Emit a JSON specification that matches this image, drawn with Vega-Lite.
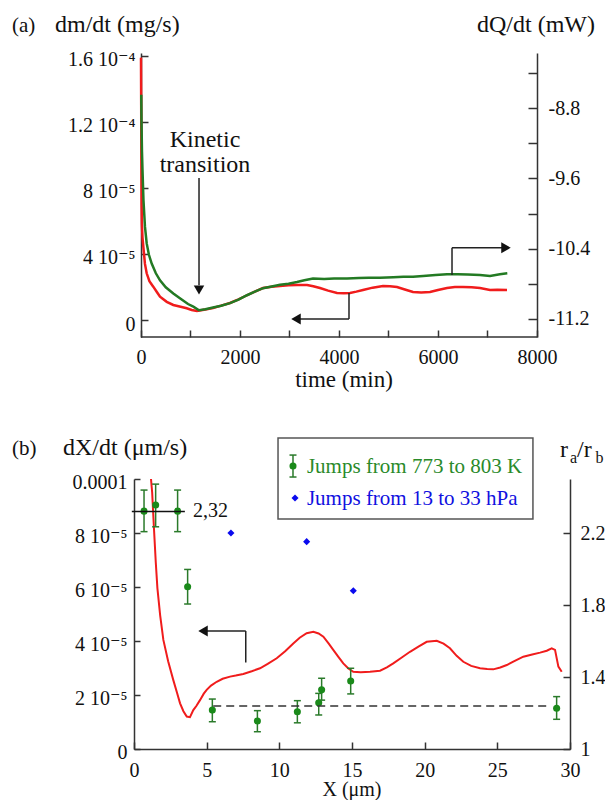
{
  "$schema": "https://vega.github.io/schema/vega-lite/v6.json",
  "padding": {"left": 12, "top": 13, "right": 0, "bottom": 0},
  "bounds": "flush",
  "spacing": 142,
  "config": {
    "font": "Liberation Serif, Times New Roman, DejaVu Serif, serif",
    "view": {"stroke": null},
    "axis": {"grid": false, "domainColor": "#333", "domainWidth": 1.5, "tickColor": "#333", "tickWidth": 1.5, "labelColor": "#111", "labelFont": "Liberation Serif, Times New Roman, DejaVu Serif, serif", "labelFontSize": 20, "labelOverlap": false, "labelFlush": false, "labelBound": false},
    "text": {"font": "Liberation Serif, Times New Roman, DejaVu Serif, serif", "color": "#111"}
  },
  "datasets": {
    "topRed": [
      {"time": 0, "dm": 0.000159}, {"time": 4, "dm": 0.00013}, {"time": 8, "dm": 0.000095}, {"time": 12, "dm": 0.00007}, {"time": 18, "dm": 0.000058},
      {"time": 30, "dm": 0.00005}, {"time": 47, "dm": 0.0000444}, {"time": 80, "dm": 0.000034}, {"time": 115, "dm": 0.0000283}, {"time": 170, "dm": 0.0000235},
      {"time": 248, "dm": 0.0000202}, {"time": 320, "dm": 0.000017}, {"time": 384, "dm": 0.0000141}, {"time": 520, "dm": 0.000011}, {"time": 653, "dm": 0.0000091},
      {"time": 800, "dm": 0.000008}, {"time": 923, "dm": 0.0000071}, {"time": 1024, "dm": 0.0000061}, {"time": 1131, "dm": 0.0000055}, {"time": 1300, "dm": 0.0000063},
      {"time": 1455, "dm": 0.0000073}, {"time": 1620, "dm": 0.0000087}, {"time": 1798, "dm": 0.0000103}, {"time": 1970, "dm": 0.0000125}, {"time": 2141, "dm": 0.000015},
      {"time": 2300, "dm": 0.0000172}, {"time": 2465, "dm": 0.0000194}, {"time": 2640, "dm": 0.0000202}, {"time": 2808, "dm": 0.0000206}, {"time": 2980, "dm": 0.000021},
      {"time": 3152, "dm": 0.0000212}, {"time": 3354, "dm": 0.0000212}, {"time": 3480, "dm": 0.0000205}, {"time": 3616, "dm": 0.0000194}, {"time": 3780, "dm": 0.0000178},
      {"time": 3960, "dm": 0.0000164}, {"time": 4100, "dm": 0.0000162}, {"time": 4222, "dm": 0.0000164}, {"time": 4350, "dm": 0.0000172}, {"time": 4485, "dm": 0.0000182},
      {"time": 4680, "dm": 0.0000196}, {"time": 4889, "dm": 0.0000206}, {"time": 5030, "dm": 0.0000205}, {"time": 5172, "dm": 0.00002}, {"time": 5330, "dm": 0.0000185},
      {"time": 5495, "dm": 0.000017}, {"time": 5660, "dm": 0.0000166}, {"time": 5838, "dm": 0.000017}, {"time": 6000, "dm": 0.0000182}, {"time": 6182, "dm": 0.0000194},
      {"time": 6340, "dm": 0.00002}, {"time": 6505, "dm": 0.00002}, {"time": 6680, "dm": 0.0000198}, {"time": 6848, "dm": 0.0000194}, {"time": 7051, "dm": 0.0000182},
      {"time": 7200, "dm": 0.0000184}, {"time": 7394, "dm": 0.0000182}
    ],
    "topGreen": [
      {"time": 5, "dQ": -8.65}, {"time": 10, "dQ": -8.95}, {"time": 20, "dQ": -9.3}, {"time": 30, "dQ": -9.5}, {"time": 50, "dQ": -9.85},
      {"time": 80, "dQ": -10.15}, {"time": 115, "dQ": -10.34}, {"time": 160, "dQ": -10.47}, {"time": 216, "dQ": -10.57}, {"time": 300, "dQ": -10.68},
      {"time": 384, "dQ": -10.76}, {"time": 500, "dQ": -10.84}, {"time": 653, "dQ": -10.91}, {"time": 800, "dQ": -10.97}, {"time": 950, "dQ": -11.03},
      {"time": 1057, "dQ": -11.06}, {"time": 1172, "dQ": -11.1}, {"time": 1300, "dQ": -11.09}, {"time": 1455, "dQ": -11.07}, {"time": 1620, "dQ": -11.05},
      {"time": 1798, "dQ": -11.02}, {"time": 1970, "dQ": -10.98}, {"time": 2141, "dQ": -10.93}, {"time": 2300, "dQ": -10.89}, {"time": 2465, "dQ": -10.85},
      {"time": 2640, "dQ": -10.83}, {"time": 2808, "dQ": -10.81}, {"time": 2980, "dQ": -10.8}, {"time": 3152, "dQ": -10.78}, {"time": 3300, "dQ": -10.76},
      {"time": 3475, "dQ": -10.74}, {"time": 3700, "dQ": -10.745}, {"time": 3900, "dQ": -10.74}, {"time": 4162, "dQ": -10.74}, {"time": 4400, "dQ": -10.735},
      {"time": 4600, "dQ": -10.73}, {"time": 4828, "dQ": -10.73}, {"time": 5100, "dQ": -10.725}, {"time": 5300, "dQ": -10.72}, {"time": 5495, "dQ": -10.72},
      {"time": 5700, "dQ": -10.71}, {"time": 5950, "dQ": -10.7}, {"time": 6182, "dQ": -10.69}, {"time": 6400, "dQ": -10.69}, {"time": 6600, "dQ": -10.695},
      {"time": 6848, "dQ": -10.7}, {"time": 7051, "dQ": -10.71}, {"time": 7250, "dQ": -10.69}, {"time": 7400, "dQ": -10.68}
    ],
    "botRed": [
      {"x": 1.17, "v": 0.0001}, {"x": 1.25, "v": 0.000095}, {"x": 1.38, "v": 0.000081}, {"x": 1.5, "v": 0.000069}, {"x": 1.61, "v": 0.0000596},
      {"x": 1.8, "v": 0.0000495}, {"x": 2.02, "v": 0.0000404}, {"x": 2.35, "v": 0.0000325}, {"x": 2.7, "v": 0.0000256}, {"x": 2.95, "v": 0.000021},
      {"x": 3.17, "v": 0.0000169}, {"x": 3.4, "v": 0.000014}, {"x": 3.63, "v": 0.000012}, {"x": 3.85, "v": 0.0000118}, {"x": 4.08, "v": 0.0000144},
      {"x": 4.3, "v": 0.000016}, {"x": 4.54, "v": 0.0000181}, {"x": 4.8, "v": 0.0000205}, {"x": 5.0, "v": 0.0000219}, {"x": 5.3, "v": 0.0000235},
      {"x": 5.69, "v": 0.0000249}, {"x": 6.1, "v": 0.000026}, {"x": 6.61, "v": 0.0000268}, {"x": 7.0, "v": 0.0000272}, {"x": 7.52, "v": 0.0000278},
      {"x": 8.1, "v": 0.0000288}, {"x": 8.67, "v": 0.0000299}, {"x": 9.2, "v": 0.0000315}, {"x": 9.82, "v": 0.0000336}, {"x": 10.4, "v": 0.0000362},
      {"x": 10.96, "v": 0.0000391}, {"x": 11.4, "v": 0.0000412}, {"x": 11.88, "v": 0.0000429}, {"x": 12.34, "v": 0.0000434}, {"x": 12.7, "v": 0.0000428},
      {"x": 13.03, "v": 0.0000416}, {"x": 13.4, "v": 0.000039}, {"x": 13.71, "v": 0.0000367}, {"x": 14.05, "v": 0.0000342}, {"x": 14.4, "v": 0.0000317},
      {"x": 14.75, "v": 0.0000298}, {"x": 15.09, "v": 0.0000286}, {"x": 15.6, "v": 0.0000284}, {"x": 16.24, "v": 0.0000286}, {"x": 16.93, "v": 0.000029},
      {"x": 17.4, "v": 0.0000302}, {"x": 17.84, "v": 0.0000317}, {"x": 18.4, "v": 0.0000338}, {"x": 18.99, "v": 0.000036}, {"x": 19.6, "v": 0.000038},
      {"x": 20.14, "v": 0.0000397}, {"x": 20.83, "v": 0.0000401}, {"x": 21.3, "v": 0.000039}, {"x": 21.74, "v": 0.0000373}, {"x": 22.2, "v": 0.0000345},
      {"x": 22.66, "v": 0.0000323}, {"x": 23.2, "v": 0.0000308}, {"x": 23.81, "v": 0.0000299}, {"x": 24.3, "v": 0.0000296}, {"x": 24.72, "v": 0.0000295},
      {"x": 25.2, "v": 0.0000302}, {"x": 25.65, "v": 0.0000311}, {"x": 26.2, "v": 0.0000326}, {"x": 26.79, "v": 0.0000342}, {"x": 27.4, "v": 0.000035},
      {"x": 27.94, "v": 0.0000357}, {"x": 28.4, "v": 0.0000364}, {"x": 28.74, "v": 0.0000373}, {"x": 28.97, "v": 0.0000367}, {"x": 29.2, "v": 0.0000305},
      {"x": 29.43, "v": 0.0000286}
    ],
    "jumpsT": [
      {"x": 0.69, "v": 0.0000881, "lo": 0.0000805, "hi": 0.0000959},
      {"x": 1.49, "v": 0.0000904, "lo": 0.0000823, "hi": 0.0000981},
      {"x": 3.0, "v": 0.0000881, "lo": 0.0000805, "hi": 0.0000959},
      {"x": 3.69, "v": 0.0000601, "lo": 0.0000537, "hi": 0.0000665},
      {"x": 5.39, "v": 0.0000144, "lo": 0.0000101, "hi": 0.0000185},
      {"x": 8.49, "v": 0.0000104, "lo": 0.0000064, "hi": 0.0000142},
      {"x": 11.24, "v": 0.0000138, "lo": 0.0000097, "hi": 0.0000179},
      {"x": 12.71, "v": 0.0000171, "lo": 0.0000126, "hi": 0.0000206},
      {"x": 12.91, "v": 0.0000219, "lo": 0.0000181, "hi": 0.0000262},
      {"x": 14.91, "v": 0.0000252, "lo": 0.0000204, "hi": 0.0000299},
      {"x": 29.08, "v": 0.0000151, "lo": 0.000011, "hi": 0.0000194}
    ],
    "jumpsP": [
      {"x": 6.67, "r": 2.2}, {"x": 11.88, "r": 2.152}, {"x": 15.09, "r": 1.879}
    ]
  },
  "vconcat": [
    {
      "width": 403,
      "height": 284,
      "resolve": {"scale": {"y": "independent"}},
      "layer": [
        {
          "layer": [
            {
              "data": {"name": "topRed"},
              "mark": {"type": "line", "color": "#f01c1c", "strokeWidth": 2.5},
              "encoding": {
                "x": {"field": "time", "type": "quantitative", "scale": {"domain": [-141.4, 8000], "nice": false, "zero": false},
                  "axis": {"title": null, "domain": false, "values": [0, 1000, 2000, 3000, 4000, 5000, 6000, 7000, 8000], "labelExpr": "datum.value % 2000 == 0 ? format(datum.value, 'd') : ''", "tickSize": -7, "labelPadding": 17}},
                "y": {"field": "dm", "type": "quantitative", "scale": {"domain": [-0.0000103, 0.0001618], "nice": false, "zero": false},
                  "axis": {"title": null, "orient": "left", "offset": -7, "values": [0, 0.00002, 0.00004, 0.00006, 0.00008, 0.0001, 0.00012, 0.00014, 0.00016], "labelExpr": "round(datum.value*1e5) % 4 != 0 ? '' : round(datum.value*1e5) == 0 ? '0' : round(datum.value*1e5) < 10 ? round(datum.value*1e5) + ' 10\u207b\u2075' : format(datum.value*1e4, '.1f') + ' 10\u207b\u2074'", "tickSize": -7, "labelPadding": 13, "labelOffset": 4}}
              }
            },
            {"data": {"values": [{}]}, "mark": {"type": "rule", "color": "#333", "strokeWidth": 1.5}, "encoding": {"x": {"datum": 0}, "x2": {"datum": 8000}, "y": {"datum": -0.0000103}}},
            {"data": {"values": [{}]}, "mark": {"type": "rule", "color": "#222", "strokeWidth": 1.5}, "encoding": {"x": {"datum": 1172}, "y": {"datum": 0.000086}, "y2": {"datum": 0.000021}}},
            {"data": {"values": [{}]}, "mark": {"type": "point", "shape": "triangle-down", "filled": true, "size": 110, "color": "#111", "opacity": 1}, "encoding": {"x": {"datum": 1172}, "y": {"datum": 0.0000182}}},
            {"data": {"values": [{}]}, "mark": {"type": "rule", "color": "#222", "strokeWidth": 1.5}, "encoding": {"x": {"datum": 4202}, "y": {"datum": 0.0000164}, "y2": {"datum": 0.0000006}}},
            {"data": {"values": [{}]}, "mark": {"type": "rule", "color": "#222", "strokeWidth": 1.5}, "encoding": {"x": {"datum": 4202}, "x2": {"datum": 3200}, "y": {"datum": 0.0000006}}},
            {"data": {"values": [{}]}, "mark": {"type": "point", "shape": "triangle-left", "filled": true, "size": 120, "color": "#111", "opacity": 1}, "encoding": {"x": {"datum": 3131}, "y": {"datum": 0.0000006}}},
            {"data": {"values": [{}]}, "mark": {"type": "text", "text": "(a)", "fontSize": 21, "align": "left", "baseline": "alphabetic"}, "encoding": {"x": {"datum": -2606}, "y": {"datum": 0.0001745}}},
            {"data": {"values": [{}]}, "mark": {"type": "text", "text": "dm/dt (mg/s)", "fontSize": 24, "align": "left", "baseline": "alphabetic"}, "encoding": {"x": {"datum": -1737}, "y": {"datum": 0.0001745}}},
            {"data": {"values": [{}]}, "mark": {"type": "text", "text": "dQ/dt (mW)", "fontSize": 24, "align": "left", "baseline": "alphabetic"}, "encoding": {"x": {"datum": 6788}, "y": {"datum": 0.0001745}}},
            {"data": {"values": [{}]}, "mark": {"type": "text", "text": "Kinetic", "fontSize": 24, "align": "center", "baseline": "alphabetic"}, "encoding": {"x": {"datum": 1293}, "y": {"datum": 0.0001048}}},
            {"data": {"values": [{}]}, "mark": {"type": "text", "text": "transition", "fontSize": 24, "align": "center", "baseline": "alphabetic"}, "encoding": {"x": {"datum": 1293}, "y": {"datum": 0.0000897}}},
            {"data": {"values": [{}]}, "mark": {"type": "text", "text": "time (min)", "fontSize": 23, "align": "center", "baseline": "alphabetic"}, "encoding": {"x": {"datum": 4101}, "y": {"datum": -0.0000406}}}
          ]
        },
        {
          "layer": [
            {
              "data": {"name": "topGreen"},
              "mark": {"type": "line", "color": "#237a23", "strokeWidth": 2.5},
              "encoding": {
                "x": {"field": "time", "type": "quantitative"},
                "y": {"field": "dQ", "type": "quantitative", "scale": {"domain": [-11.405, -8.174], "nice": false, "zero": false},
                  "axis": {"title": null, "orient": "right", "values": [-11.2, -10.8, -10.4, -10, -9.6, -9.2, -8.8, -8.4], "labelExpr": "(round(-datum.value*10) - 88) % 8 == 0 ? '-' + format(-datum.value, '.1f') : ''", "tickSize": -9, "labelPadding": 20}}
              }
            },
            {"data": {"values": [{}]}, "mark": {"type": "rule", "color": "#222", "strokeWidth": 1.5}, "encoding": {"x": {"datum": 6283}, "y": {"datum": -10.7}, "y2": {"datum": -10.39}}},
            {"data": {"values": [{}]}, "mark": {"type": "rule", "color": "#222", "strokeWidth": 1.5}, "encoding": {"x": {"datum": 6283}, "x2": {"datum": 7300}, "y": {"datum": -10.39}}},
            {"data": {"values": [{}]}, "mark": {"type": "point", "shape": "triangle-right", "filled": true, "size": 120, "color": "#111", "opacity": 1}, "encoding": {"x": {"datum": 7374}, "y": {"datum": -10.39}}}
          ]
        }
      ]
    },
    {
      "width": 436,
      "height": 270,
      "resolve": {"scale": {"y": "independent"}},
      "layer": [
        {
          "layer": [
            {
              "data": {"name": "botRed"},
              "mark": {"type": "line", "color": "#f01c1c", "strokeWidth": 2},
              "encoding": {
                "x": {"field": "x", "type": "quantitative", "scale": {"domain": [0, 30], "nice": false, "zero": false},
                  "axis": {"title": null, "values": [0, 5, 10, 15, 20, 25, 30], "tickSize": -7, "labelPadding": 18}},
                "y": {"field": "v", "type": "quantitative", "scale": {"domain": [0, 0.0001], "nice": false, "zero": false},
                  "axis": {"title": null, "orient": "left", "values": [0, 0.00002, 0.00004, 0.00006, 0.00008, 0.0001], "labelExpr": "round(datum.value*1e5) == 0 ? '0' : round(datum.value*1e5) == 10 ? '0.0001' : round(datum.value*1e5) + ' 10\u207b\u2075'", "tickSize": -6, "labelPadding": 13, "labelOffset": 3}}
              }
            },
            {"data": {"name": "jumpsT"}, "mark": {"type": "rule", "color": "#2a7a2a", "strokeWidth": 1.5}, "encoding": {"x": {"field": "x", "type": "quantitative"}, "y": {"field": "lo", "type": "quantitative"}, "y2": {"field": "hi"}}},
            {"data": {"name": "jumpsT"}, "mark": {"type": "tick", "orient": "horizontal", "size": 7, "thickness": 1.5, "color": "#2a7a2a", "opacity": 1}, "encoding": {"x": {"field": "x", "type": "quantitative"}, "y": {"field": "lo", "type": "quantitative"}}},
            {"data": {"name": "jumpsT"}, "mark": {"type": "tick", "orient": "horizontal", "size": 7, "thickness": 1.5, "color": "#2a7a2a", "opacity": 1}, "encoding": {"x": {"field": "x", "type": "quantitative"}, "y": {"field": "hi", "type": "quantitative"}}},
            {"data": {"name": "jumpsT"}, "mark": {"type": "point", "filled": true, "size": 50, "color": "#1a8a1a", "opacity": 1}, "encoding": {"x": {"field": "x", "type": "quantitative"}, "y": {"field": "v", "type": "quantitative"}}},
            {"data": {"values": [{}]}, "mark": {"type": "rule", "color": "#222", "strokeWidth": 1.5}, "encoding": {"x": {"datum": 7.69}, "x2": {"datum": 4.8}, "y": {"datum": 0.0000437}}},
            {"data": {"values": [{}]}, "mark": {"type": "rule", "color": "#222", "strokeWidth": 1.5}, "encoding": {"x": {"datum": 7.69}, "y": {"datum": 0.0000437}, "y2": {"datum": 0.000032}}},
            {"data": {"values": [{}]}, "mark": {"type": "point", "shape": "triangle-left", "filled": true, "size": 120, "color": "#111", "opacity": 1}, "encoding": {"x": {"datum": 4.75}, "y": {"datum": 0.0000437}}},
            {"data": {"values": [{}]}, "mark": {"type": "text", "text": "(b)", "fontSize": 21, "align": "left", "baseline": "alphabetic"}, "encoding": {"x": {"datum": -8.39}, "y": {"datum": 0.0001089}}},
            {"data": {"values": [{}]}, "mark": {"type": "text", "text": "dX/dt (\u03bcm/s)", "fontSize": 24, "align": "left", "baseline": "alphabetic"}, "encoding": {"x": {"datum": -4.885}, "y": {"datum": 0.0001089}}},
            {"data": {"values": [{}]}, "mark": {"type": "text", "text": "X (\u03bcm)", "fontSize": 20, "align": "center", "baseline": "alphabetic"}, "encoding": {"x": {"datum": 15.0}, "y": {"datum": -0.0000174}}}
          ]
        },
        {
          "layer": [
            {
              "data": {"name": "jumpsP"},
              "mark": {"type": "point", "shape": "diamond", "filled": true, "size": 50, "color": "#0a0aee", "opacity": 1},
              "encoding": {
                "x": {"field": "x", "type": "quantitative"},
                "y": {"field": "r", "type": "quantitative", "scale": {"domain": [1, 2.5], "nice": false, "zero": false},
                  "axis": {"title": null, "orient": "right", "values": [1, 1.2, 1.4, 1.6, 1.8, 2, 2.2, 2.4], "labelExpr": "format(datum.value, '~g')", "tickSize": -7, "labelPadding": 17}}
              }
            },
            {"data": {"values": [{}]}, "mark": {"type": "rule", "color": "#333", "strokeWidth": 1.5, "strokeDash": [8, 5]}, "encoding": {"x": {"datum": 5.45}, "x2": {"datum": 28.6}, "y": {"datum": 1.239}}},
            {"data": {"values": [{}]}, "mark": {"type": "rule", "color": "#111", "strokeWidth": 1.5}, "encoding": {"x": {"datum": -0.15}, "x2": {"datum": 3.5}, "y": {"datum": 2.32}}},
            {"data": {"values": [{}]}, "mark": {"type": "text", "text": "2,32", "fontSize": 20, "align": "left", "baseline": "middle"}, "encoding": {"x": {"datum": 4.06}, "y": {"datum": 2.325}}},
            {"data": {"values": [{}]}, "mark": {"type": "rect", "fill": "white", "stroke": "#555", "strokeWidth": 1.5}, "encoding": {"x": {"datum": 9.91}, "x2": {"datum": 27.45}, "y": {"datum": 2.278}, "y2": {"datum": 2.728}}},
            {"data": {"values": [{}]}, "mark": {"type": "rule", "color": "#2a7a2a", "strokeWidth": 1.5}, "encoding": {"x": {"datum": 10.94}, "y": {"datum": 2.511}, "y2": {"datum": 2.633}}},
            {"data": {"values": [{}]}, "mark": {"type": "tick", "orient": "horizontal", "size": 7, "thickness": 1.5, "color": "#2a7a2a", "opacity": 1}, "encoding": {"x": {"datum": 10.94}, "y": {"datum": 2.511}}},
            {"data": {"values": [{}]}, "mark": {"type": "tick", "orient": "horizontal", "size": 7, "thickness": 1.5, "color": "#2a7a2a", "opacity": 1}, "encoding": {"x": {"datum": 10.94}, "y": {"datum": 2.633}}},
            {"data": {"values": [{}]}, "mark": {"type": "point", "filled": true, "size": 50, "color": "#1a8a1a", "opacity": 1}, "encoding": {"x": {"datum": 10.94}, "y": {"datum": 2.572}}},
            {"data": {"values": [{}]}, "mark": {"type": "point", "shape": "diamond", "filled": true, "size": 50, "color": "#0a0aee", "opacity": 1}, "encoding": {"x": {"datum": 11.08}, "y": {"datum": 2.394}}},
            {"data": {"values": [{}]}, "mark": {"type": "text", "text": "Jumps from 773 to 803 K", "fontSize": 21, "align": "left", "baseline": "middle", "color": "#2a8a2a"}, "encoding": {"x": {"datum": 11.9}, "y": {"datum": 2.565}}},
            {"data": {"values": [{}]}, "mark": {"type": "text", "text": "Jumps from 13 to 33 hPa", "fontSize": 21, "align": "left", "baseline": "middle", "color": "#1010e0"}, "encoding": {"x": {"datum": 11.9}, "y": {"datum": 2.39}}},
            {"data": {"values": [{}]}, "mark": {"type": "text", "text": "r", "fontSize": 24, "align": "left", "baseline": "alphabetic"}, "encoding": {"x": {"datum": 29.31}, "y": {"datum": 2.624}}},
            {"data": {"values": [{}]}, "mark": {"type": "text", "text": "a", "fontSize": 16, "align": "left", "baseline": "alphabetic"}, "encoding": {"x": {"datum": 30.0}, "y": {"datum": 2.59}}},
            {"data": {"values": [{}]}, "mark": {"type": "text", "text": "/r", "fontSize": 24, "align": "left", "baseline": "alphabetic"}, "encoding": {"x": {"datum": 30.48}, "y": {"datum": 2.624}}},
            {"data": {"values": [{}]}, "mark": {"type": "text", "text": "b", "fontSize": 16, "align": "left", "baseline": "alphabetic"}, "encoding": {"x": {"datum": 31.75}, "y": {"datum": 2.59}}}
          ]
        }
      ]
    }
  ]
}
